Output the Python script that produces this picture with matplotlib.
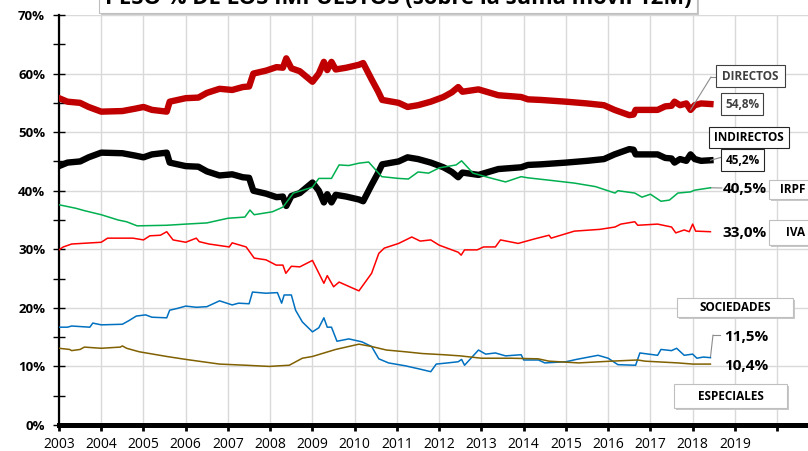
import matplotlib
matplotlib.use('Agg')
import matplotlib.pyplot as plt
import matplotlib.patches as patches
from matplotlib.lines import Line2D
from matplotlib.ticker import FuncFormatter, MultipleLocator

plt.rcParams['font.family'] = ['Open Sans', 'DejaVu Sans']

W, H = 808, 451

# --- data (share of each tax in total, % of 12-month rolling sum) ---
directos_t = [2003.0, 2003.2, 2003.5, 2003.7, 2004.0, 2004.5, 2004.8, 2005.0, 2005.2, 2005.55,
              2005.62, 2006.0, 2006.3, 2006.5, 2006.8, 2007.1, 2007.35, 2007.5, 2007.6, 2007.9,
              2008.15, 2008.3, 2008.38, 2008.5, 2008.7, 2009.0, 2009.15, 2009.27, 2009.35, 2009.45,
              2009.55, 2009.8, 2010.1, 2010.2, 2010.4, 2010.55, 2010.65, 2011.04, 2011.25, 2011.5,
              2011.8, 2012.1, 2012.3, 2012.45, 2012.55, 2012.93, 2013.4, 2013.94, 2014.1, 2014.4,
              2015.0, 2015.5, 2015.9, 2016.15, 2016.5, 2016.6, 2016.65, 2017.17, 2017.35, 2017.5,
              2017.57, 2017.7, 2017.85, 2017.95, 2018.05, 2018.2, 2018.42]
directos_v = [55.8, 55.2, 55.0, 54.3, 53.5, 53.6, 54.0, 54.3, 53.8, 53.5,
              55.2, 55.8, 55.9, 56.7, 57.4, 57.2, 57.7, 57.8, 60.0, 60.5,
              61.1, 61.0, 62.6, 60.9, 60.4, 58.6, 60.0, 62.0, 60.6, 62.0,
              60.7, 61.0, 61.5, 61.8, 59.0, 57.0, 55.5, 55.0, 54.3, 54.6,
              55.2, 56.0, 56.8, 57.7, 56.9, 57.3, 56.3, 56.0, 55.6, 55.5,
              55.2, 54.9, 54.6, 53.8, 52.9, 53.0, 53.8, 53.8, 54.4, 54.5,
              55.2, 54.6, 54.9, 53.8, 54.6, 54.9, 54.8]

indirectos_t = directos_t
indirectos_v = [44.2, 44.8, 45.0, 45.7, 46.5, 46.4, 46.0, 45.7, 46.2, 46.5,
                44.8, 44.2, 44.1, 43.3, 42.6, 42.8, 42.3, 42.2, 40.0, 39.5,
                38.9, 39.0, 37.4, 39.1, 39.6, 41.4, 40.0, 38.0, 39.4, 38.0,
                39.3, 39.0, 38.5, 38.2, 41.0, 43.0, 44.5, 45.0, 45.7, 45.4,
                44.8, 44.0, 43.2, 42.3, 43.1, 42.7, 43.7, 44.0, 44.4, 44.5,
                44.8, 45.1, 45.4, 46.2, 47.1, 47.0, 46.2, 46.2, 45.6, 45.5,
                44.8, 45.4, 45.1, 46.2, 45.4, 45.1, 45.2]

irpf_t = [2003.0, 2003.4, 2003.6, 2004.0, 2004.4, 2004.6, 2004.85, 2005.55, 2006.0, 2006.5,
          2007.0, 2007.4, 2007.52, 2007.62, 2008.05, 2008.3, 2008.55, 2009.0, 2009.15, 2009.45,
          2009.63, 2009.86, 2010.1, 2010.33, 2010.64, 2011.04, 2011.27, 2011.5, 2011.75, 2012.0,
          2012.4, 2012.53, 2012.8, 2013.2, 2013.57, 2013.94, 2014.1, 2014.6, 2015.2, 2015.7,
          2016.16, 2016.23, 2016.63, 2016.8, 2017.0, 2017.25, 2017.45, 2017.65, 2017.95, 2018.05,
          2018.42]
irpf_v = [37.6, 37.0, 36.6, 35.9, 35.0, 34.7, 34.0, 34.1, 34.3, 34.5,
          35.3, 35.5, 36.7, 35.9, 36.4, 37.2, 39.6, 40.6, 42.1, 42.1,
          44.4, 44.3, 44.7, 44.9, 42.4, 42.1, 42.0, 43.2, 43.0, 43.9,
          44.4, 45.1, 43.0, 42.2, 41.5, 42.4, 42.2, 41.8, 41.3, 40.7,
          39.6, 40.0, 39.6, 38.9, 39.4, 38.2, 38.4, 39.6, 39.8, 40.1,
          40.5]

iva_t = [2003.0, 2003.1, 2003.3, 2004.0, 2004.15, 2004.75, 2005.0, 2005.15, 2005.4, 2005.55,
         2005.7, 2006.0, 2006.25, 2006.32, 2006.55, 2007.03, 2007.1, 2007.43, 2007.62, 2007.9,
         2008.14, 2008.3, 2008.37, 2008.5, 2008.7, 2009.0, 2009.27, 2009.35, 2009.5, 2009.63,
         2010.1, 2010.4, 2010.57, 2010.7, 2011.04, 2011.35, 2011.55, 2011.8, 2012.0, 2012.45,
         2012.52, 2012.6, 2012.9, 2013.05, 2013.33, 2013.45, 2013.87, 2014.27, 2014.6, 2014.65,
         2015.2, 2015.8, 2016.16, 2016.3, 2016.63, 2016.7, 2017.17, 2017.5, 2017.6, 2017.8,
         2017.92, 2018.0, 2018.07, 2018.42]
iva_v = [29.9, 30.4, 30.9, 31.2, 31.9, 31.9, 31.6, 32.3, 32.4, 33.0,
         31.6, 31.2, 31.9, 31.3, 30.9, 30.4, 31.1, 30.4, 28.5, 28.2,
         27.3, 27.3, 25.9, 27.1, 27.0, 28.1, 24.2, 25.5, 23.6, 24.4,
         22.9, 25.9, 29.3, 30.2, 31.0, 32.1, 31.4, 31.6, 30.7, 29.5,
         29.0, 29.9, 29.9, 30.4, 30.4, 31.6, 31.0, 31.8, 32.4, 31.9,
         33.1, 33.4, 33.8, 34.3, 34.7, 34.1, 34.3, 33.8, 32.8, 33.3,
         33.0, 34.3, 33.1, 33.0]

sociedades_t = [2003.0, 2003.2, 2003.3, 2003.73, 2003.8, 2004.0, 2004.5, 2004.65, 2004.83, 2005.05,
                2005.2, 2005.55, 2005.62, 2005.8, 2006.0, 2006.25, 2006.5, 2006.8, 2007.1, 2007.25,
                2007.5, 2007.58, 2007.9, 2008.17, 2008.27, 2008.33, 2008.5, 2008.6, 2008.76, 2009.0,
                2009.15, 2009.27, 2009.35, 2009.45, 2009.58, 2009.86, 2010.17, 2010.4, 2010.57, 2010.8,
                2011.2, 2011.57, 2011.8, 2011.93, 2012.2, 2012.45, 2012.53, 2012.6, 2012.93, 2013.1,
                2013.33, 2013.57, 2013.94, 2014.0, 2014.35, 2014.5, 2015.0, 2015.25, 2015.76, 2016.0,
                2016.23, 2016.65, 2016.75, 2017.17, 2017.25, 2017.5, 2017.62, 2017.8, 2018.0, 2018.1,
                2018.25, 2018.42]
sociedades_v = [16.7, 16.7, 16.9, 16.7, 17.4, 17.1, 17.2, 17.8, 18.6, 18.8,
                18.4, 18.3, 19.6, 19.9, 20.3, 20.1, 20.2, 21.2, 20.5, 20.8,
                20.7, 22.7, 22.5, 22.6, 20.8, 22.2, 22.2, 19.6, 17.6, 15.9,
                16.6, 18.3, 16.7, 16.7, 14.3, 14.7, 14.2, 13.4, 11.3, 10.6,
                10.1, 9.5, 9.1, 10.4, 10.6, 10.8, 11.2, 10.2, 12.8, 12.1,
                12.3, 11.8, 12.0, 11.1, 11.1, 10.6, 10.8, 11.2, 11.9, 11.4,
                10.3, 10.2, 12.3, 11.9, 12.9, 12.7, 13.1, 11.9, 12.1, 11.4,
                11.6, 11.5]

especiales_t = [2003.0, 2003.25, 2003.3, 2003.5, 2003.6, 2004.0, 2004.45, 2004.5, 2004.6, 2004.9,
                2005.55, 2006.0, 2006.8, 2007.43, 2007.98, 2008.2, 2008.45, 2008.76, 2009.0, 2009.55,
                2010.1, 2010.4, 2010.75, 2011.2, 2011.6, 2012.1, 2012.5, 2013.0, 2013.7, 2014.34,
                2014.6, 2015.3, 2016.07, 2016.7, 2016.87, 2017.65, 2018.0, 2018.42]
especiales_v = [13.1, 12.9, 12.7, 12.9, 13.3, 13.1, 13.3, 13.5, 13.1, 12.5,
                11.7, 11.2, 10.4, 10.2, 10.0, 10.1, 10.2, 11.4, 11.7, 12.9,
                13.8, 13.4, 12.8, 12.5, 12.2, 12.0, 11.8, 11.4, 11.4, 11.3,
                10.9, 10.6, 10.9, 11.1, 10.9, 10.6, 10.4, 10.4]

years = list(range(2003, 2021))
year_labels = [str(y) if y < 2020 else '' for y in years]
title = 'PESO % DE LOS IMPUESTOS (sobre la suma móvil 12M)'


def fp(x, y):
    """pixel (from top-left) -> figure fraction"""
    return (x / W, 1 - y / H)


def box(x0, y0, x1, y1, edge, shadow=False, lw=0.8):
    if shadow:
        fig.add_artist(patches.Rectangle(fp(x0 + 2, y1 + 2), (x1 - x0) / W, (y1 - y0) / H,
                                         transform=fig.transFigure, facecolor='#C8C8C8',
                                         edgecolor='none', zorder=9))
    fig.add_artist(patches.Rectangle(fp(x0, y1), (x1 - x0) / W, (y1 - y0) / H,
                                     transform=fig.transFigure, facecolor='white',
                                     edgecolor=edge, linewidth=lw, zorder=10))


def label(x, y, s, size=8.5, color='black', ha='center'):
    fig.text(x / W, 1 - y / H, s, ha=ha, va='center', fontsize=size,
             fontweight='bold', color=color, zorder=11)


fig = plt.figure(figsize=(W / 100, H / 100), dpi=100)
ax = fig.add_axes([59 / W, 26 / H, (W - 59) / W, 410 / H])
ax.set_xlim(2003, 2020.73)
ax.set_ylim(0, 70)

ax.plot(directos_t, directos_v, color='#C00000', lw=4.6, solid_joinstyle='round', zorder=3)
ax.plot(indirectos_t, indirectos_v, color='black', lw=4.6, solid_joinstyle='round', zorder=3)
ax.plot(irpf_t, irpf_v, color='#00B050', lw=1.1, zorder=4)
ax.plot(iva_t, iva_v, color='#FF0000', lw=1.1, zorder=4)
ax.plot(sociedades_t, sociedades_v, color='#0070C0', lw=1.1, zorder=4)
ax.plot(especiales_t, especiales_v, color='#806000', lw=1.1, zorder=4)

ax.set_xticks(years)
ax.set_xticklabels(year_labels)
ax.yaxis.set_major_locator(MultipleLocator(10))
ax.yaxis.set_minor_locator(MultipleLocator(5))
ax.yaxis.set_major_formatter(FuncFormatter(lambda v, p: f'{v:.0f}%'))
ax.grid(True, color='#D9D9D9', lw=1)
ax.set_axisbelow(True)
for s in ['top', 'right']:
    ax.spines[s].set_visible(False)
ax.spines['left'].set_linewidth(1.6)
ax.spines['bottom'].set_linewidth(3.6)
ax.spines['bottom'].set_zorder(5)
ax.tick_params(axis='x', direction='out', length=4, width=2, labelsize=10, pad=5)
ax.tick_params(axis='y', which='both', direction='inout', length=8, width=1, pad=6)
for t in ax.get_yticklabels():
    t.set_fontweight('bold')
    t.set_fontsize(9.5)

# title box, partially cut at top (as in the source image)
box(99, -20, 697, 13, '#BFBFBF', shadow=True)
fig.text(398 / W, 1 - 4 / H, title, ha='center', va='baseline', fontsize=15.8,
         fontweight='bold', zorder=11)

# label boxes
box(716, 65, 785, 87, '#404040')
label(750.5, 76, 'DIRECTOS', color='#404040')
box(721, 93, 763, 115, '#404040')
label(742, 104, '54,8%', color='#404040')
box(709, 127, 789, 148, '#262626')
label(749, 137.5, 'INDIRECTOS')
box(721, 149, 764, 171, '#262626')
label(742.5, 160, '45,2%')
label(745, 189, '40,5%', size=11)
box(769, 180, 818, 199, '#BFBFBF', shadow=True)
label(780, 189.5, 'IRPF', ha='left')
label(745, 233, '33,0%', size=11)
box(769, 220, 818, 245, '#BFBFBF', shadow=True)
label(786, 233, 'IVA', ha='left')
box(677, 298, 793, 317, '#BFBFBF', shadow=True)
label(735, 307.5, 'SOCIEDADES')
label(746, 337, '11,5%', size=11)
label(746, 366, '10,4%', size=11)
box(674, 384, 787, 408, '#BFBFBF', shadow=True)
label(730.5, 396, 'ESPECIALES')

# leader lines
lc = '#8C8C8C'
ax.annotate('', xy=(directos_t[-4], directos_v[-4]), xycoords='data',
            xytext=fp(711, 77), textcoords='figure fraction',
            arrowprops=dict(arrowstyle='-', color=lc, lw=0.8, shrinkA=0, shrinkB=0))
fig.add_artist(Line2D([711 / W, 716 / W], [1 - 77 / H, 1 - 77 / H], color=lc, lw=0.8))
ax.annotate('', xy=(indirectos_t[-1], indirectos_v[-1]), xycoords='data',
            xytext=fp(752, 149), textcoords='figure fraction',
            arrowprops=dict(arrowstyle='-', color=lc, lw=0.8, shrinkA=0, shrinkB=0))
ax.annotate('', xy=(irpf_t[-1], irpf_v[-1]), xycoords='data',
            xytext=fp(722, 188), textcoords='figure fraction',
            arrowprops=dict(arrowstyle='-', color=lc, lw=0.8, shrinkA=0, shrinkB=0))
ax.annotate('', xy=(sociedades_t[-1], sociedades_v[-1]), xycoords='data',
            xytext=fp(713, 335), textcoords='figure fraction',
            arrowprops=dict(arrowstyle='-', color=lc, lw=0.8, shrinkA=0, shrinkB=0))
fig.add_artist(Line2D([713 / W, 720 / W], [1 - 335 / H, 1 - 335 / H], color=lc, lw=0.8))

fig.savefig('out.png', dpi=100)
